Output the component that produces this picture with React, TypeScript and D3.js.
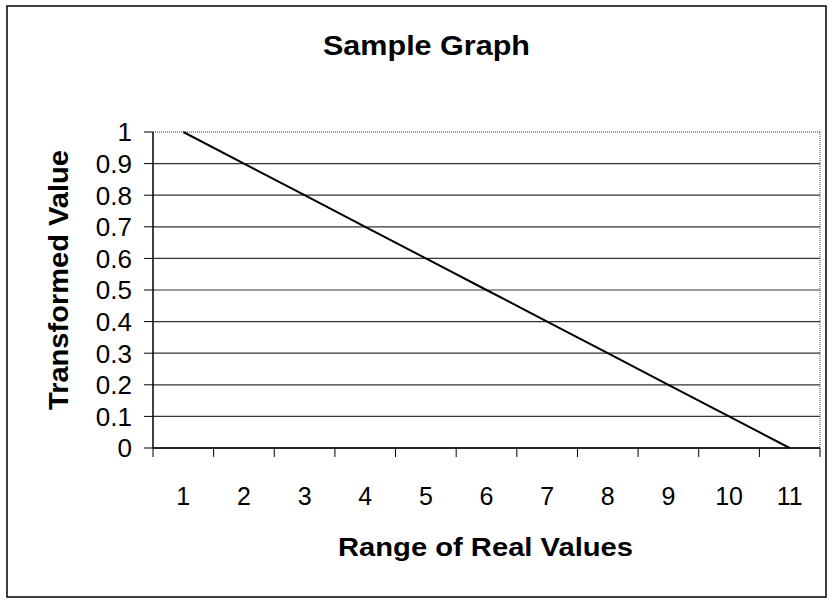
import React from "react";
import * as d3 from "d3";

const categories: number[] = [1, 2, 3, 4, 5, 6, 7, 8, 9, 10, 11];
const transformedValues: number[] = [1, 0.9, 0.8, 0.7, 0.6, 0.5, 0.4, 0.3, 0.2, 0.1, 0];
const yTicks: number[] = [0, 0.1, 0.2, 0.3, 0.4, 0.5, 0.6, 0.7, 0.8, 0.9, 1];
const yTickLabels: string[] = ["0", "0.1", "0.2", "0.3", "0.4", "0.5", "0.6", "0.7", "0.8", "0.9", "1"];
const title = "Sample Graph";
const xTitle = "Range of Real Values";
const yTitle = "Transformed Value";

const W = 830;
const H = 601;
const plot = { left: 153, right: 820, top: 132, bottom: 448 };
const font = "'Liberation Sans', Arial, sans-serif";

export default function App() {
  const x = d3
    .scaleBand<number>()
    .domain(categories)
    .range([plot.left, plot.right])
    .paddingInner(0)
    .paddingOuter(0);
  const y = d3.scaleLinear().domain([0, 1]).range([plot.bottom, plot.top]);

  const line = d3
    .line<number>()
    .x((_, i) => (x(categories[i]) as number) + x.bandwidth() / 2)
    .y((d) => y(d));

  const boundaries = d3.range(categories.length + 1).map((i) => plot.left + i * x.bandwidth());

  return (
    <svg
      width={W}
      height={H}
      style={{ position: "absolute", left: 0, top: 0, background: "#fff" }}
      fontFamily={font}
    >
      <rect x={0} y={0} width={W} height={H} fill="#fff" />
      <rect x={7} y={6} width={819} height={591} fill="none" stroke="#000" strokeWidth={1.5} />

      <text x={426.5} y={55} textAnchor="middle" fontSize={28} fontWeight="bold" textLength={207} lengthAdjust="spacingAndGlyphs">
        {title}
      </text>

      {/* gridlines */}
      {yTicks.map((t) => (
        <line
          key={"g" + t}
          x1={plot.left}
          x2={plot.right}
          y1={y(t)}
          y2={y(t)}
          stroke="#333"
          strokeWidth={1.2}
          strokeDasharray={t === 1 ? "1 1" : undefined}
        />
      ))}
      {/* right dotted border */}
      <line x1={plot.right} x2={plot.right} y1={plot.top} y2={plot.bottom} stroke="#444" strokeWidth={1} strokeDasharray="1 1" />

      {/* y axis */}
      <line x1={plot.left} x2={plot.left} y1={plot.top} y2={plot.bottom} stroke="#000" strokeWidth={1.5} />
      {yTicks.map((t, i) => (
        <g key={"yt" + t}>
          <line x1={plot.left - 9} x2={plot.left} y1={y(t)} y2={y(t)} stroke="#000" strokeWidth={1} />
          <text x={132} y={y(t)} dy="0.36em" textAnchor="end" fontSize={26}>
            {yTickLabels[i]}
          </text>
        </g>
      ))}

      {/* x axis */}
      <line x1={plot.left} x2={plot.right} y1={plot.bottom} y2={plot.bottom} stroke="#000" strokeWidth={1.5} />
      {boundaries.map((b, i) => (
        <line key={"xt" + i} x1={b} x2={b} y1={plot.bottom} y2={plot.bottom + 9} stroke="#000" strokeWidth={1} />
      ))}
      {categories.map((c) => (
        <text
          key={"xl" + c}
          x={(x(c) as number) + x.bandwidth() / 2}
          y={505}
          textAnchor="middle"
          fontSize={25}
        >
          {c}
        </text>
      ))}

      {/* series */}
      <path d={line(transformedValues) || ""} fill="none" stroke="#000" strokeWidth={2} />

      <text x={485.5} y={556} textAnchor="middle" fontSize={25} fontWeight="bold" textLength={295} lengthAdjust="spacingAndGlyphs">
        {xTitle}
      </text>
      <text
        transform={`translate(68, 280) rotate(-90)`}
        textAnchor="middle"
        fontSize={27}
        fontWeight="bold"
        textLength={260}
        lengthAdjust="spacingAndGlyphs"
      >
        {yTitle}
      </text>
    </svg>
  );
}
